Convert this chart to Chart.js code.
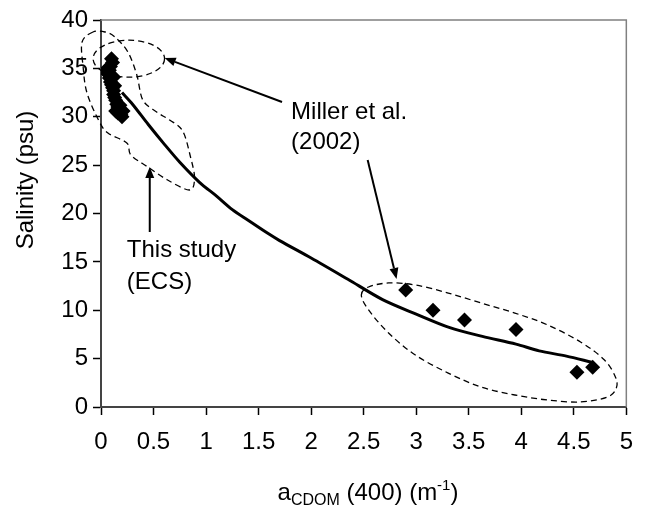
<!DOCTYPE html>
<html>
<head>
<meta charset="utf-8">
<script src="https://cdn.jsdelivr.net/npm/chart.js@4.4.1/dist/chart.umd.min.js"></script>
<style>
  html, body { margin: 0; padding: 0; background: #fff; }
  #wrap { width: 646px; height: 509px; }
</style>
</head>
<body>
<div id="wrap"><canvas id="c" width="646" height="509"></canvas></div>
<script>
// ---- data ----
const xTickLabels = ['0','0.5','1','1.5','2','2.5','3','3.5','4','4.5','5'];
const yTickLabels = ['0','5','10','15','20','25','30','35','40'];

// This study (ECS) samples
const ecsX = [0.10,0.11,0.09,0.08,0.07,0.08,0.09,0.10,0.11,0.12,0.12,0.13,0.14,0.15,0.16,0.17,0.18,0.19,0.20,0.16,0.05,0.06,0.13,0.18,0.14,0.21,0.12];
const ecsY = [36.0,35.6,35.2,34.8,34.4,34.0,33.6,33.3,33.0,32.7,32.3,32.0,31.7,31.3,31.0,30.7,30.5,30.2,30.0,30.4,34.6,35.0,33.2,31.2,30.6,30.6,34.1];

// Miller et al. (2002) samples
const millerX = [2.90,3.16,3.46,3.95,4.53,4.68];
const millerY = [12.1,10.0,9.0,8.0,3.6,4.1];

// fitted curve
const fitX = [0.20,0.30,0.45,0.60,0.75,0.94,1.10,1.25,1.40,1.58,1.70,2.00,2.35,2.68,3.00,3.32,3.63,3.95,4.17,4.43,4.67];
const fitY = [32.5,31.3,29.2,27.2,25.3,23.2,21.8,20.4,19.3,18.0,17.2,15.4,13.2,11.1,9.6,8.2,7.3,6.5,5.8,5.26,4.64];

// annotation outlines (data units)
const millerOutlineX = [2.478,2.547,2.737,2.992,3.305,3.617,3.939,4.252,4.564,4.792,4.896,4.905,4.820,4.564,4.252,3.939,3.617,3.305,2.992,2.737,2.547];
const millerOutlineY = [11.58,12.40,12.82,12.61,11.78,10.75,9.71,8.48,6.72,4.86,3.10,1.96,1.03,0.52,0.72,1.24,2.07,3.51,5.37,7.65,10.03];
const ecsOutlineX = [-0.076,-0.180,-0.170,-0.133,-0.019,0.066,0.246,0.284,0.445,0.634,0.843,0.890,0.852,0.777,0.653,0.530,0.398,0.341,0.256,0.133,0.038];
const ecsOutlineY = [38.76,37.73,35.14,32.45,29.56,28.32,27.29,26.05,24.81,23.46,22.43,23.67,25.84,28.53,29.66,30.49,31.73,34.32,36.69,38.24,38.76];
const smallEllipse = {cx:0.265, cy:36.0, rx:0.34, ry:1.91};

const arrows = [
  {x1:1.723, y1:31.52, x2:0.606, y2:36.07},
  {x1:2.538, y1:25.53, x2:2.813, y2:13.23},
  {x1:0.464, y1:18.09, x2:0.464, y2:24.81}
];
const notes = [
  {text:'Miller et al.', x:1.809, y:30.49},
  {text:'(2002)', x:1.809, y:27.39},
  {text:'This study', x:0.246, y:16.23},
  {text:'(ECS)', x:0.246, y:12.92}
];

const FONT = "'Liberation Sans', Arial, Helvetica, sans-serif";

function pts(xs, ys) { return xs.map((x, i) => ({x: x, y: ys[i]})); }

function closedSpline(ctx, p) {
  const n = p.length;
  ctx.moveTo(p[0].x, p[0].y);
  for (let i = 0; i < n; i++) {
    const p0 = p[(i - 1 + n) % n], p1 = p[i], p2 = p[(i + 1) % n], p3 = p[(i + 2) % n];
    ctx.bezierCurveTo(p1.x + (p2.x - p0.x) / 6, p1.y + (p2.y - p0.y) / 6,
                      p2.x - (p3.x - p1.x) / 6, p2.y - (p3.y - p1.y) / 6,
                      p2.x, p2.y);
  }
  ctx.closePath();
}

const overlay = {
  id: 'overlay',
  beforeDatasetsDraw(chart) {
    const {ctx, chartArea: a} = chart;
    ctx.save();
    ctx.strokeStyle = '#808080';
    ctx.lineWidth = 1.5;
    ctx.beginPath();
    ctx.moveTo(a.left, a.top); ctx.lineTo(a.right, a.top); ctx.lineTo(a.right, a.bottom);
    ctx.stroke();
    ctx.restore();
  },
  afterDatasetsDraw(chart) {
    const {ctx, scales: {x, y}} = chart;
    const px = v => x.getPixelForValue(v), py = v => y.getPixelForValue(v);
    ctx.save();
    // dashed outlines
    ctx.strokeStyle = '#000';
    ctx.lineWidth = 1.3;
    ctx.setLineDash([6, 4]);
    ctx.beginPath();
    closedSpline(ctx, millerOutlineX.map((v, i) => ({x: px(v), y: py(millerOutlineY[i])})));
    ctx.stroke();
    ctx.beginPath();
    closedSpline(ctx, ecsOutlineX.map((v, i) => ({x: px(v), y: py(ecsOutlineY[i])})));
    ctx.stroke();
    ctx.beginPath();
    const ecx = px(smallEllipse.cx), ecy = py(smallEllipse.cy);
    ctx.ellipse(ecx, ecy, px(smallEllipse.cx + smallEllipse.rx) - ecx, ecy - py(smallEllipse.cy + smallEllipse.ry), 0, 0, Math.PI * 2);
    ctx.stroke();
    ctx.setLineDash([]);
    // arrows
    ctx.lineWidth = 2;
    ctx.fillStyle = '#000';
    arrows.forEach(ar => {
      const x1 = px(ar.x1), y1 = py(ar.y1), x2 = px(ar.x2), y2 = py(ar.y2);
      const ang = Math.atan2(y2 - y1, x2 - x1);
      const L = 11, W = 4.5;
      const bx = x2 - L * Math.cos(ang), by = y2 - L * Math.sin(ang);
      ctx.beginPath(); ctx.moveTo(x1, y1); ctx.lineTo(bx, by); ctx.stroke();
      ctx.beginPath();
      ctx.moveTo(x2, y2);
      ctx.lineTo(bx + W * Math.sin(ang), by - W * Math.cos(ang));
      ctx.lineTo(bx - W * Math.sin(ang), by + W * Math.cos(ang));
      ctx.closePath(); ctx.fill();
    });
    // notes
    ctx.font = '24px ' + FONT;
    ctx.textBaseline = 'middle';
    ctx.textAlign = 'left';
    notes.forEach(n => ctx.fillText(n.text, px(n.x), py(n.y)));

    // axis titles
    ctx.save();
    ctx.translate(26, 180);
    ctx.rotate(-Math.PI / 2);
    ctx.textAlign = 'center';
    ctx.fillText('Salinity (psu)', 0, 0);
    ctx.restore();

    const parts = [
      {t: 'a', f: 24, dy: 0},
      {t: 'CDOM', f: 16, dy: 5},
      {t: ' (400) (m', f: 24, dy: 0},
      {t: '-1', f: 15, dy: -10},
      {t: ')', f: 24, dy: 0}
    ];
    let total = 0;
    parts.forEach(p => { ctx.font = p.f + 'px ' + FONT; p.w = ctx.measureText(p.t).width; total += p.w; });
    let cx = 368 - total / 2;
    ctx.textBaseline = 'alphabetic';
    parts.forEach(p => { ctx.font = p.f + 'px ' + FONT; ctx.fillText(p.t, cx, 500 + p.dy); cx += p.w; });
    ctx.restore();
  }
};

new Chart(document.getElementById('c'), {
  type: 'scatter',
  data: {
    datasets: [
      {
        label: 'Fit',
        data: pts(fitX, fitY),
        showLine: true,
        borderColor: '#000',
        borderWidth: 3,
        pointRadius: 0,
        tension: 0.3,
        fill: false,
        order: 1
      },
      {
        label: 'This study (ECS)',
        data: pts(ecsX, ecsY),
        pointStyle: 'rectRot',
        pointRadius: 7.5,
        backgroundColor: '#000',
        borderColor: '#000',
        borderWidth: 0,
        order: 2
      },
      {
        label: 'Miller et al. (2002)',
        data: pts(millerX, millerY),
        pointStyle: 'rectRot',
        pointRadius: 7.5,
        backgroundColor: '#000',
        borderColor: '#000',
        borderWidth: 0,
        order: 2
      }
    ]
  },
  options: {
    responsive: false,
    animation: false,
    devicePixelRatio: 1,
    layout: { padding: { top: 20, right: 17, left: 0, bottom: 0 } },
    plugins: { legend: { display: false }, tooltip: { enabled: false }, title: { display: false } },
    scales: {
      x: {
        type: 'linear', min: 0, max: 5,
        afterFit(s) { s.height = 102; },
        ticks: {
          stepSize: 0.5, color: '#000', padding: 13, maxRotation: 0, autoSkip: false,
          font: { family: FONT, size: 24 },
          callback: (v, i) => xTickLabels[i]
        },
        grid: { drawOnChartArea: false, drawTicks: true, tickLength: 8, tickColor: '#000', tickWidth: 1.5 },
        border: { display: true, color: '#444', width: 2 }
      },
      y: {
        type: 'linear', min: 0, max: 40,
        afterFit(s) { s.width = 101; },
        ticks: {
          stepSize: 5, color: '#000', padding: 5,
          font: { family: FONT, size: 24 },
          callback: (v, i) => yTickLabels[i]
        },
        grid: { drawOnChartArea: false, drawTicks: true, tickLength: 8, tickColor: '#000', tickWidth: 1.5 },
        border: { display: true, color: '#444', width: 2 }
      }
    }
  },
  plugins: [overlay]
});
</script>
</body>
</html>
